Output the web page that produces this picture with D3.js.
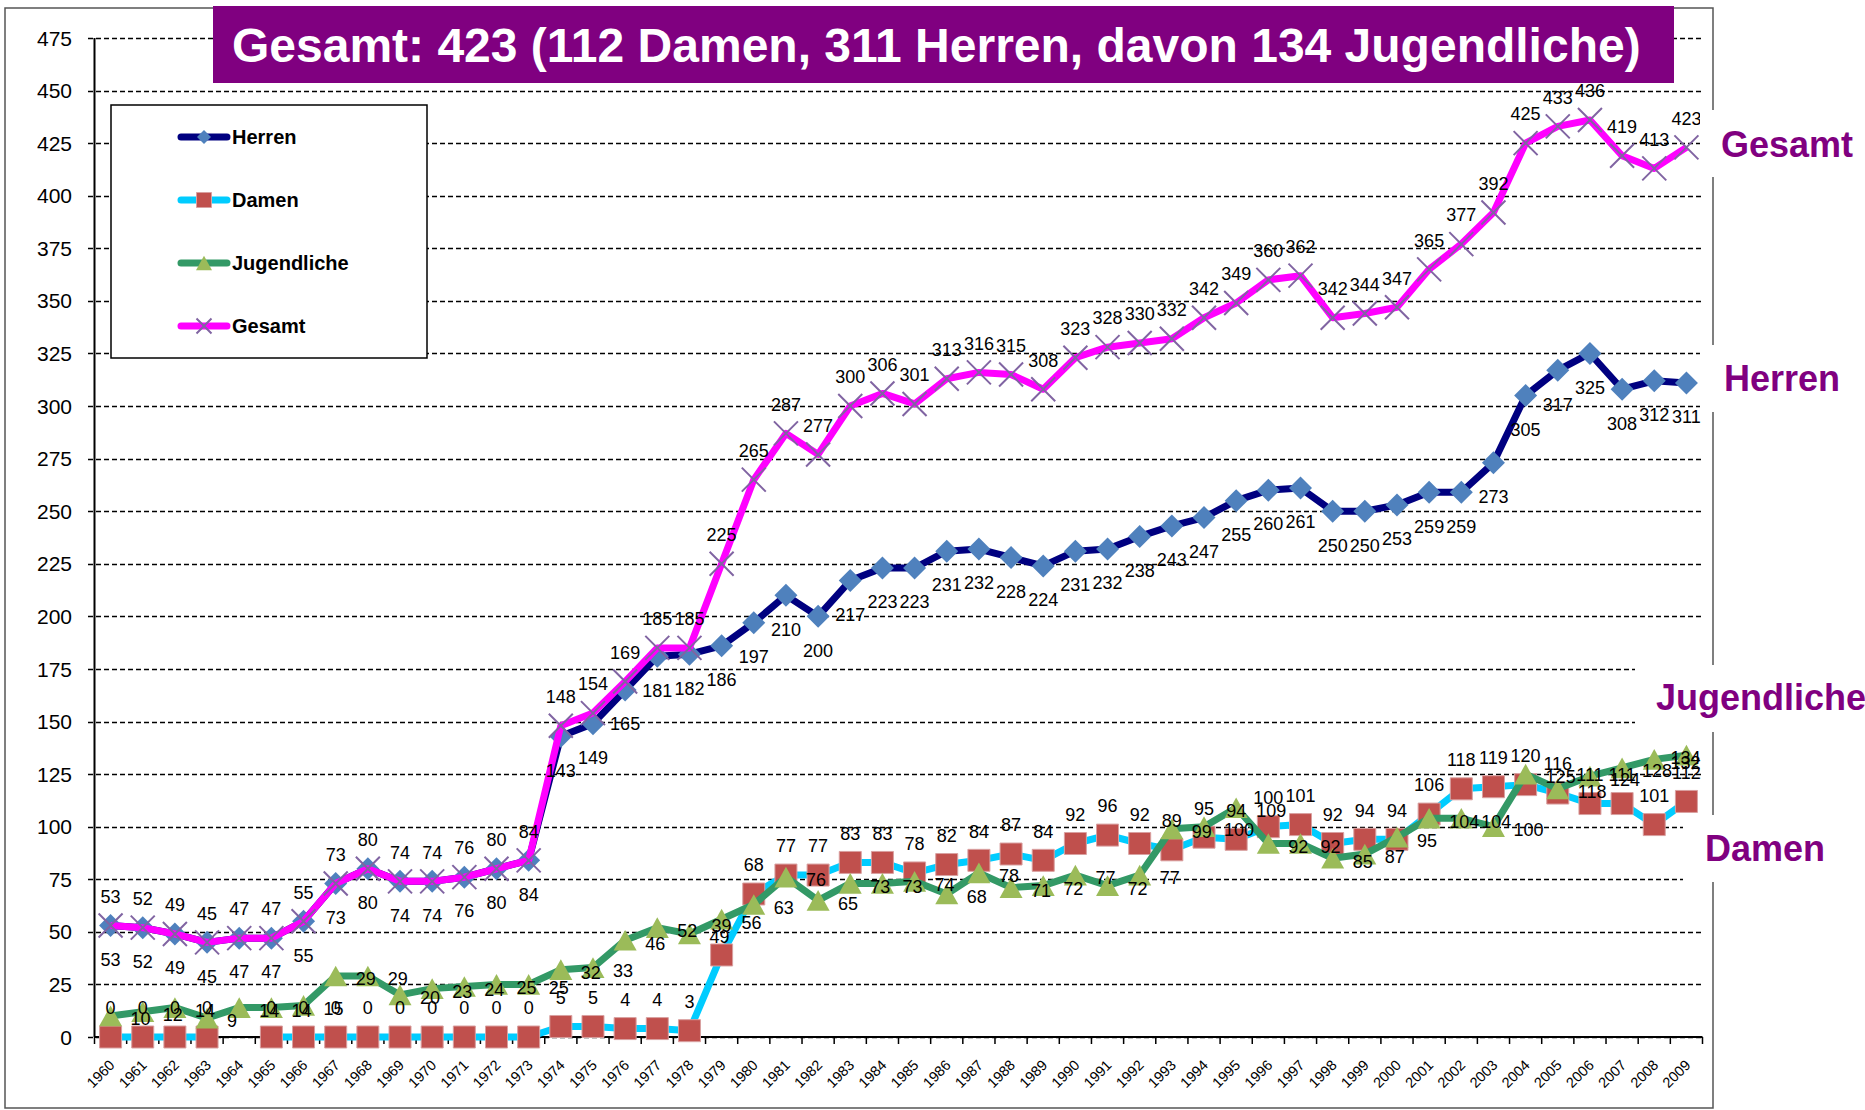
<!DOCTYPE html>
<html lang="de">
<head>
<meta charset="UTF-8">
<title>Mitglieder 1960-2009</title>
<script src="https://d3js.org/d3.v7.min.js"></script>
<style>
  body { margin: 0; background: #fff; }
  text { font-family: "Liberation Sans", Arial, sans-serif; }
</style>
</head>
<body>
<script>
// Jahre und Mitgliederzahlen
var years = [1960,1961,1962,1963,1964,1965,1966,1967,1968,1969,
             1970,1971,1972,1973,1974,1975,1976,1977,1978,1979,
             1980,1981,1982,1983,1984,1985,1986,1987,1988,1989,
             1990,1991,1992,1993,1994,1995,1996,1997,1998,1999,
             2000,2001,2002,2003,2004,2005,2006,2007,2008,2009];

var herren = [53,52,49,45,47,47,55,73,80,74,
              74,76,80,84,143,149,165,181,182,186,
              197,210,200,217,223,223,231,232,228,224,
              231,232,238,243,247,255,260,261,250,250,
              253,259,259,273,305,317,325,308,312,311];

var damen = [0,0,0,0,null,0,0,0,0,0,
             0,0,0,0,5,5,4,4,3,39,
             68,77,77,83,83,78,82,84,87,84,
             92,96,92,89,95,94,100,101,92,94,
             94,106,118,119,120,116,111,111,101,112];

var jugend = [10,12,14,9,14,14,15,29,29,20,
              23,24,25,25,32,33,46,52,49,56,
              63,76,65,73,73,74,68,78,71,72,
              77,72,77,99,100,109,92,92,85,87,
              95,104,104,100,125,118,124,128,132,134];

var gesamt = [53,52,49,45,47,47,55,73,80,74,
              74,76,80,84,148,154,169,185,185,225,
              265,287,277,300,306,301,313,316,315,308,
              323,328,330,332,342,349,360,362,342,344,
              347,365,377,392,425,433,436,419,413,423];

var yTicks = [0,25,50,75,100,125,150,175,200,225,250,275,300,325,350,375,400,425,450,475];

var titleText = "Gesamt: 423 (112 Damen, 311 Herren, davon 134 Jugendliche)";

var width = 1865, height = 1110;
var plotLeft = 94.5, plotRight = 1702.5;

var svg = d3.select("body").append("svg")
    .attr("width", width)
    .attr("height", height);

var x = d3.scaleBand().domain(years).range([plotLeft, plotRight]);
var y = d3.scaleLinear().domain([0, 475]).range([1037, 38]);
function px(i) { return x(years[i]) + x.bandwidth() / 2; }

// marker shapes (size = half extent)
var diamond = { draw: function(c, r) { c.moveTo(0, -r); c.lineTo(r, 0); c.lineTo(0, r); c.lineTo(-r, 0); c.closePath(); } };
var square = { draw: function(c, r) { c.rect(-r, -r, 2 * r, 2 * r); } };
var triangle = { draw: function(c, r) { c.moveTo(0, -r * 0.9); c.lineTo(r, r * 0.9); c.lineTo(-r, r * 0.9); c.closePath(); } };
var cross = { draw: function(c, r) { c.moveTo(-r, -r); c.lineTo(r, r); c.moveTo(r, -r); c.lineTo(-r, r); } };

var series = [
  { name: "Herren", values: herren, line: "#000080", fill: "#4F81BD", stroke: "none", shape: diamond, r: 11.5, lr: 7, pos: "below" },
  { name: "Damen", values: damen, line: "#00CCFF", fill: "#C0504D", stroke: "#D9A0A0", shape: square, r: 11, lr: 7.5, pos: "above" },
  { name: "Jugendliche", values: jugend, line: "#339966", fill: "#9BBB59", stroke: "none", shape: triangle, r: 11.5, lr: 8, pos: "right" },
  { name: "Gesamt", values: gesamt, line: "#FF00FF", fill: "none", stroke: "#8064A2", shape: cross, r: 12, lr: 7.5, pos: "above" }
];

// gridlines
svg.append("g").selectAll("line")
  .data(yTicks)
  .enter().append("line")
  .attr("x1", 88).attr("x2", plotRight)
  .attr("y1", function(d) { return Math.round(y(d)) + 0.5; })
  .attr("y2", function(d) { return Math.round(y(d)) + 0.5; })
  .attr("stroke", "#000")
  .attr("stroke-width", 1.4)
  .attr("stroke-dasharray", "5,3");

// y axis
svg.append("line")
  .attr("x1", plotLeft).attr("x2", plotLeft)
  .attr("y1", y(475)).attr("y2", y(0))
  .attr("stroke", "#000").attr("stroke-width", 2);

svg.append("g").selectAll("text")
  .data(yTicks)
  .enter().append("text")
  .attr("x", 72)
  .attr("y", function(d) { return y(d); })
  .attr("dy", "0.36em")
  .attr("text-anchor", "end")
  .style("font-size", "21px")
  .text(function(d) { return d; });

// x axis
svg.append("line")
  .attr("x1", plotLeft).attr("x2", plotRight)
  .attr("y1", y(0)).attr("y2", y(0))
  .attr("stroke", "#000").attr("stroke-width", 2);

svg.append("g").selectAll("line")
  .data(years.concat(["end"]))
  .enter().append("line")
  .attr("x1", function(d) { return d === "end" ? plotRight : x(d); })
  .attr("x2", function(d) { return d === "end" ? plotRight : x(d); })
  .attr("y1", y(0)).attr("y2", y(0) + 7)
  .attr("stroke", "#000").attr("stroke-width", 1.5);

svg.append("g").selectAll("text")
  .data(years)
  .enter().append("text")
  .attr("transform", function(d, i) { return "translate(" + (px(i) + 5) + "," + (y(0) + 29) + ") rotate(-45)"; })
  .attr("text-anchor", "end")
  .style("font-size", "14.5px")
  .text(function(d) { return d; });

// series lines + markers
var line = d3.line()
  .defined(function(d) { return d != null; })
  .x(function(d, i) { return px(i); })
  .y(function(d) { return y(d); });

series.forEach(function(s) {
  var g = svg.append("g");
  g.append("path")
    .attr("d", line(s.values))
    .attr("fill", "none")
    .attr("stroke", s.line)
    .attr("stroke-width", 7)
    .attr("stroke-linejoin", "round");
  g.selectAll("path.m")
    .data(s.values.map(function(v, i) { return { v: v, i: i }; }).filter(function(d) { return d.v != null; }))
    .enter().append("path")
    .attr("class", "m")
    .attr("transform", function(d) { return "translate(" + px(d.i) + "," + y(d.v) + ")"; })
    .attr("d", d3.symbol().type(s.shape).size(s.r))
    .attr("fill", s.fill)
    .attr("stroke", s.stroke)
    .attr("stroke-width", s.shape === cross ? 2 : 1);
});

// data labels
series.forEach(function(s) {
  var g = svg.append("g").style("font-size", "18px");
  s.values.forEach(function(v, i) {
    if (v == null) return;
    var t = g.append("text").text(v);
    if (s.pos === "right") {
      t.attr("y", y(v) + 3).attr("dy", "0.35em");
      var w = t.node().getComputedTextLength();
      t.attr("x", Math.min(px(i) + 20, plotRight - 2 - w));
    } else {
      t.attr("x", px(i))
       .attr("y", s.pos === "above" ? y(v) - 29 : y(v) + 34)
       .attr("dy", "0.35em")
       .attr("text-anchor", "middle");
    }
  });
});

// legend
var legend = svg.append("g");
legend.append("rect")
  .attr("x", 111).attr("y", 105).attr("width", 316).attr("height", 253)
  .attr("fill", "#fff").attr("stroke", "#000").attr("stroke-width", 1.5);
var legendY = [137, 200, 263, 326];
series.forEach(function(s, k) {
  var ly = legendY[k];
  legend.append("line")
    .attr("x1", 181).attr("x2", 227).attr("y1", ly).attr("y2", ly)
    .attr("stroke", s.line).attr("stroke-width", 7).attr("stroke-linecap", "round");
  legend.append("path")
    .attr("transform", "translate(204," + ly + ")")
    .attr("d", d3.symbol().type(s.shape).size(s.lr))
    .attr("fill", s.fill)
    .attr("stroke", s.stroke)
    .attr("stroke-width", s.shape === cross ? 2 : 1);
  legend.append("text")
    .attr("x", 232).attr("y", ly).attr("dy", "0.36em")
    .style("font-size", "20px").style("font-weight", "bold")
    .text(s.name);
});

// outer frame
svg.append("rect")
  .attr("x", 5).attr("y", 8).attr("width", 1708).attr("height", 1100)
  .attr("fill", "none").attr("stroke", "#555").attr("stroke-width", 1.5);

// title box
svg.append("rect")
  .attr("x", 213).attr("y", 6).attr("width", 1461).attr("height", 77)
  .attr("fill", "#800080");
svg.append("text")
  .attr("x", 232).attr("y", 62)
  .style("font-size", "48px").style("font-weight", "bold")
  .attr("fill", "#fff")
  .text(titleText);

// series names at the right
var sideLabels = [
  { text: "Gesamt", x: 1721, base: 157, box: [1700, 110, 165, 67] },
  { text: "Herren", x: 1724, base: 391, box: [1700, 345, 165, 67] },
  { text: "Jugendliche", x: 1656, base: 710, box: [1635, 665, 230, 67] },
  { text: "Damen", x: 1705, base: 861, box: [1683, 815, 182, 67] }
];
sideLabels.forEach(function(l) {
  svg.append("rect")
    .attr("x", l.box[0]).attr("y", l.box[1]).attr("width", l.box[2]).attr("height", l.box[3])
    .attr("fill", "#fff");
  svg.append("text")
    .attr("x", l.x).attr("y", l.base)
    .style("font-size", "36px").style("font-weight", "bold")
    .attr("fill", "#800080")
    .text(l.text);
});
</script>
</body>
</html>
